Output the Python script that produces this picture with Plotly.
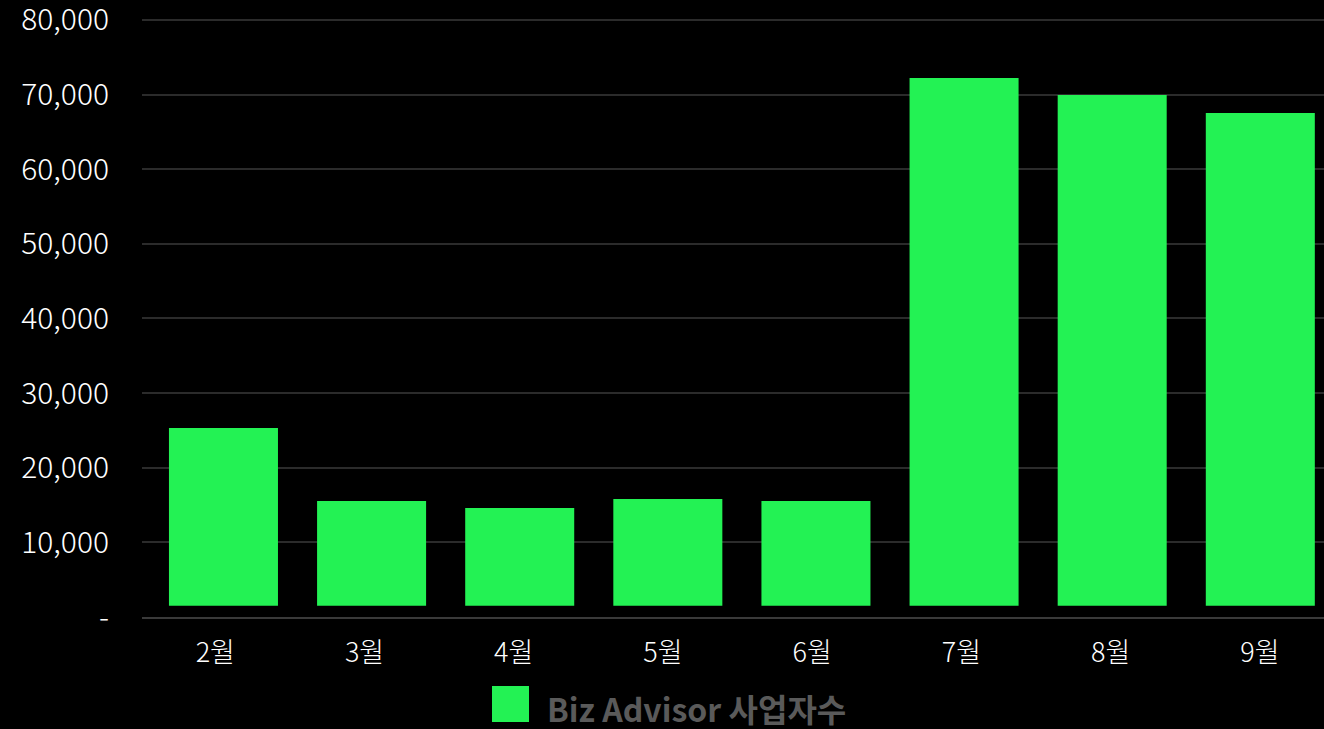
import plotly.graph_objects as go

months = ["2월", "3월", "4월", "5월", "6월", "7월", "8월", "9월"]
business_count = [25330, 15540, 14610, 15810, 15540, 72230, 69950, 67540]
series_name = "Biz Advisor 사업자수"
y_tick_vals = [0, 10000, 20000, 30000, 40000, 50000, 60000, 70000, 80000]
y_tick_text = ["-", "10,000", "20,000", "30,000", "40,000", "50,000", "60,000", "70,000", "80,000"]

BAR_FLOOR = 1500  # visual gap between bars and the baseline, as in the reference
GREEN = "#23F254"
FONT = "Noto Sans CJK KR"

W, H = 1324, 729
L, T, B = 142, 17, 112
PH = H - T - B
PW = W - L

idx = list(range(len(months)))

fig = go.Figure()
fig.add_trace(go.Bar(
    x=idx,
    y=[v - BAR_FLOOR for v in business_count],
    base=BAR_FLOOR,
    customdata=list(zip(months, business_count)),
    hovertemplate="%{customdata[0]}: %{customdata[1]:,}<extra></extra>",
    marker=dict(color=GREEN, line=dict(width=0)),
    name=series_name,
    showlegend=False,
))
# invisible carrier trace for the month label axis
fig.add_trace(go.Scatter(
    x=idx, y=business_count, xaxis="x2", yaxis="y",
    mode="markers", marker=dict(opacity=0, size=1),
    hoverinfo="skip", showlegend=False,
))

def py(pix):
    return (H - B - pix) / PH

def px(pix):
    return (pix - L) / PW

fig.update_layout(
    width=W, height=H,
    paper_bgcolor="#000000", plot_bgcolor="#000000",
    margin=dict(l=L, r=0, t=T, b=B, pad=0, autoexpand=False),
    bargap=0.264,
    font=dict(family=FONT, color="#FFFFFF"),
    xaxis=dict(
        range=[-0.55, 7.43], type="linear",
        showgrid=False, showline=True, linecolor="#3a3a3a", linewidth=2,
        zeroline=False, ticks="", showticklabels=False, automargin=False,
    ),
    xaxis2=dict(
        overlaying="x", anchor="y", side="bottom", type="linear",
        range=[-0.491, 7.429], tickvals=idx, ticktext=months,
        showgrid=False, showline=False, zeroline=False, ticks="", automargin=False,
        tickfont=dict(size=27, color="#FFFFFF", family=FONT, weight=300),
        ticklabelstandoff=17,
    ),
    yaxis=dict(
        range=[0, 80400], tickvals=y_tick_vals, ticktext=y_tick_text,
        showgrid=True, gridcolor="#2b2b2b", gridwidth=2,
        zeroline=False, showline=False, ticks="", automargin=False,
        tickfont=dict(size=30, color="#FFFFFF", family=FONT, weight=300),
        ticklabelstandoff=32, ticklabeloverflow="allow",
    ),
    shapes=[dict(
        type="rect", xref="paper", yref="paper",
        x0=px(492), x1=px(529), y0=py(686), y1=py(722),
        fillcolor=GREEN, line=dict(width=0), layer="above",
    )],
    annotations=[dict(
        text=series_name, xref="paper", yref="paper",
        x=px(545), y=py(708),
        xanchor="left", yanchor="middle", showarrow=False,
        font=dict(size=32, color="#5a5a5a", family=FONT, weight=700),
    )],
)

fig.write_html(
    "out.html",
    config={"displayModeBar": False},
    post_script="document.body.style.margin='0';document.body.style.padding='0';"
                "document.body.style.background='#000';document.documentElement.style.background='#000';",
)
